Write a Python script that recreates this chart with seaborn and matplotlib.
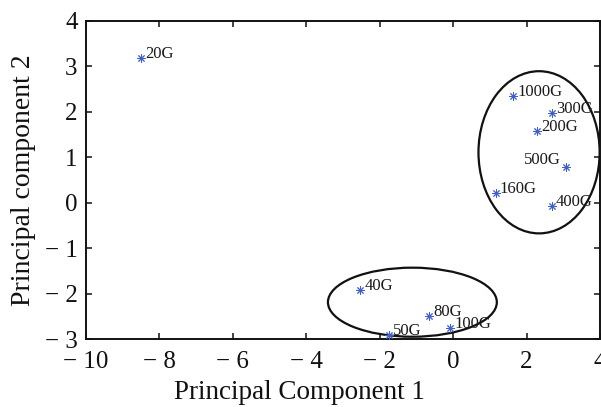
import matplotlib
matplotlib.use("Agg")
import matplotlib.pyplot as plt
from matplotlib.patches import Ellipse
from matplotlib.ticker import FuncFormatter
import seaborn as sns
import pandas as pd

# ---- data ----
labels = ["20G", "40G", "50G", "80G", "100G", "160G", "200G", "300G", "400G", "500G", "1000G"]
pc1 = [-8.50, -2.53, -1.74, -0.66, -0.08, 1.16, 2.28, 2.69, 2.69, 3.08, 1.64]
pc2 = [3.18, -1.93, -2.92, -2.50, -2.75, 0.22, 1.58, 1.97, -0.07, 0.79, 2.35]

# cluster ellipses (center x, center y, width, height)
ell_cx = [2.34, -1.11]
ell_cy = [1.11, -2.19]
ell_w = [3.30, 4.60]
ell_h = [3.57, 1.52]

xticks = [-10, -8, -6, -4, -2, 0, 2, 4]
yticks = [-3, -2, -1, 0, 1, 2, 3, 4]

df = pd.DataFrame({"pc1": pc1, "pc2": pc2, "label": labels})

sns.set_style("ticks")
plt.rcParams["font.family"] = ["Liberation Serif", "DejaVu Serif"]

fig = plt.figure(figsize=(6.01, 4.07), dpi=100)
ax = fig.add_axes([86 / 601, 1 - 339 / 407, (600 - 86) / 601, (339 - 21) / 407])

sns.scatterplot(data=df, x="pc1", y="pc2", ax=ax, marker=(8, 2, 0),
                color="#4060c8", edgecolor="#4060c8", s=30, linewidth=0.7,
                zorder=3, legend=False)

for x, y, t in zip(pc1, pc2, labels):
    if t == "500G":
        ax.annotate(t, (x, y), xytext=(-4, 2), textcoords="offset points",
                    ha="right", va="baseline", fontsize=12, color="#1a1a1a")
    else:
        ax.annotate(t, (x, y), xytext=(3, 0), textcoords="offset points",
                    ha="left", va="baseline", fontsize=12, color="#1a1a1a")

for cx, cy, w, h in zip(ell_cx, ell_cy, ell_w, ell_h):
    ax.add_patch(Ellipse((cx, cy), w, h, fill=False, edgecolor="#111111",
                         linewidth=1.6, zorder=2))

ax.set_xlim(-10, 4)
ax.set_ylim(-3, 4)
ax.set_xticks(xticks)
ax.set_yticks(yticks)

fmt = FuncFormatter(lambda v, p: ("\u2212 " + str(int(abs(v)))) if v < 0 else str(int(v)))
ax.xaxis.set_major_formatter(fmt)
ax.yaxis.set_major_formatter(fmt)

ax.tick_params(direction="in", length=4, width=1.1, top=True, right=True,
               labelsize=18, color="#111111", labelcolor="#111111")
ax.tick_params(axis="x", pad=9)
ax.tick_params(axis="y", pad=6)
for s in ax.spines.values():
    s.set_linewidth(1.4)
    s.set_color("#111111")
    s.set_visible(True)

ax.set_xlabel("Principal Component 1", fontsize=19.5, color="#111111")
ax.set_ylabel("Principal component 2", fontsize=20, color="#111111")
ax.xaxis.set_label_coords(0.415, -0.128)
ax.yaxis.set_label_coords(-0.098, 0.5)

fig.savefig("out.png", dpi=100)
